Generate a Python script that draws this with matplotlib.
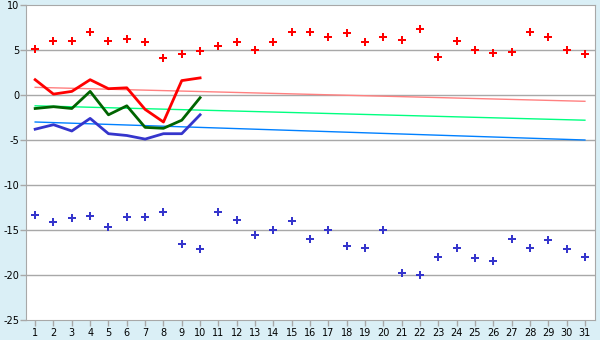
import matplotlib
matplotlib.use("Agg")
import matplotlib.pyplot as plt

# day numbers
days = list(range(1, 32))

# daily max / min (markers)
t_max = [5.1, 6.0, 6.0, 7.0, 6.0, 6.2, 5.9, 4.1, 4.6, 4.9,
         5.4, 5.9, 5.0, 5.9, 7.0, 7.0, 6.5, 6.9, 5.9, 6.5,
         6.1, 7.3, 4.2, 6.0, 5.0, 4.7, 4.8, 7.0, 6.5, 5.0, 4.6]
t_min = [-13.3, -14.1, -13.7, -13.4, -14.7, -13.5, -13.6, -13.0, -16.6, -17.1,
         -13.0, -13.9, -15.6, -15.0, -14.0, -16.0, -15.0, -16.8, -17.0, -15.0,
         -19.8, -20.0, -18.0, -17.0, -18.1, -18.4, -16.0, -17.0, -16.1, -17.1, -18.0]

# observed lines, first 10 days
obs_days = days[:10]
obs_max = [1.7, 0.1, 0.4, 1.7, 0.7, 0.8, -1.6, -3.0, 1.6, 1.9]
obs_mean = [-1.5, -1.3, -1.5, 0.4, -2.2, -1.2, -3.6, -3.7, -2.8, -0.3]
obs_min = [-3.8, -3.3, -4.0, -2.6, -4.3, -4.5, -4.9, -4.3, -4.3, -2.2]

# normals (start / end of month)
norm_days = [1, 31]
norm_max = [0.85, -0.7]
norm_mean = [-1.2, -2.8]
norm_min = [-3.0, -5.0]

y_ticks = list(range(-25, 11, 5))

bg = "#daeff6"
grey = "#a8a8a8"

fig = plt.figure(figsize=(6, 3.4), dpi=100, facecolor=bg)
ax = fig.add_axes([26/600, 20/340, 569/600, 315/340])
ax.set_facecolor("white")

for y in y_ticks[1:-1]:
    ax.axhline(y, color=grey, lw=1, zorder=0)

ax.plot(norm_days, norm_max, color="#ff8080", lw=1)
ax.plot(norm_days, norm_mean, color="#00ff80", lw=1)
ax.plot(norm_days, norm_min, color="#0080ff", lw=1)

ax.plot(obs_days, obs_max, color="#ff0000", lw=2)
ax.plot(obs_days, obs_mean, color="#006400", lw=2)
ax.plot(obs_days, obs_min, color="#3535cc", lw=2)

ax.plot(days, t_max, ls="none", marker="P", ms=5.5, color="#ff0000", mew=0)
ax.plot(days, t_min, ls="none", marker="P", ms=5.5, color="#3535cc", mew=0)

ax.set_xlim(0.5, 31.55)
ax.set_ylim(-25, 10)
ax.set_xticks(days)
ax.set_yticks(y_ticks)
ax.set_yticklabels([str(v) for v in y_ticks])
for s in ax.spines.values():
    s.set_color(grey)
ax.tick_params(colors=grey, labelcolor="black", length=4, width=1, labelsize=7, pad=2)
ax.tick_params(axis="y", pad=1)

fig.savefig("out.png", dpi=100, facecolor=bg)
